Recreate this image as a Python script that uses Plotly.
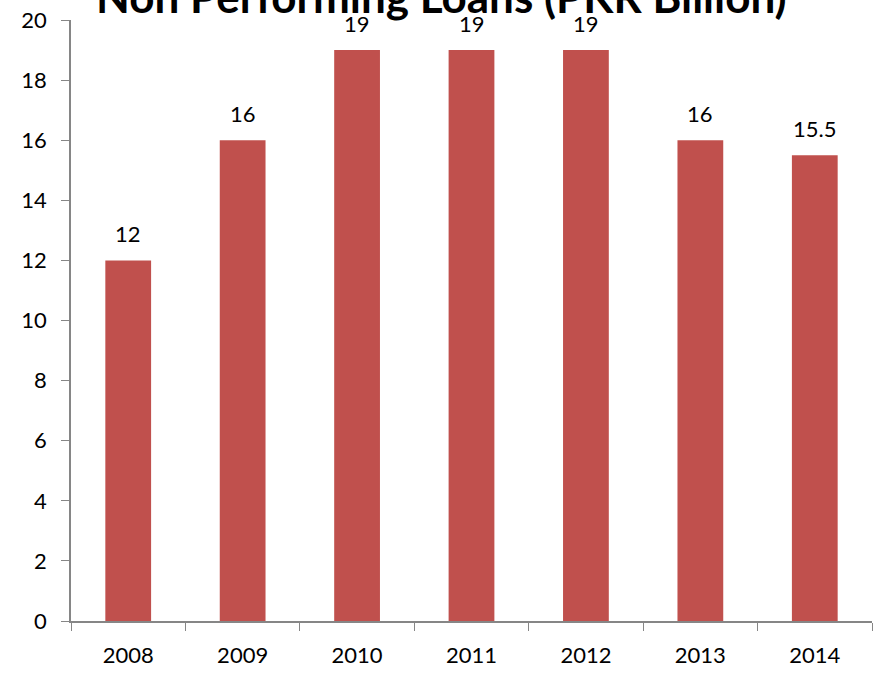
import plotly.graph_objects as go

years = ["2008", "2009", "2010", "2011", "2012", "2013", "2014"]
npl = [12, 16, 19, 19, 19, 16, 15.5]
labels = ["12", "16", "19", "19", "19", "16", "15.5"]
yticks = [0, 2, 4, 6, 8, 10, 12, 14, 16, 18, 20]
title = "Non Performing Loans (PKR Billion)"

FONT = "Lato"
fig = go.Figure()
fig.add_trace(go.Bar(x=years, y=npl, marker_color="#C0504D", width=0.4,
                     marker_line_width=0, hoverinfo="skip"))
for i, (y, t) in enumerate(zip(npl, labels)):
    fig.add_annotation(x=i, y=y, text=t, showarrow=False, yanchor="bottom",
                       yshift=11, font=dict(family=FONT, size=22, color="black"))

fig.add_annotation(xref="paper", yref="paper", x=0.463, y=0.9935, xanchor="center",
                   yanchor="bottom", text="<b>" + title + "</b>", showarrow=False,
                   font=dict(family=FONT, size=44, color="black"))

fig.update_layout(
    width=873, height=677,
    margin=dict(l=71, r=1, t=20, b=56),
    paper_bgcolor="white", plot_bgcolor="white",
    showlegend=False,
)
fig.update_xaxes(type="category", tickson="boundaries", ticks="outside", ticklen=8,
                 tickcolor="#868686", showline=True, linecolor="#868686", linewidth=1.5,
                 tickfont=dict(family=FONT, size=22, color="black"), showgrid=False,
                 ticklabelstandoff=14, tickangle=0, automargin=False)
fig.update_yaxes(range=[0, 20], tickvals=yticks, ticks="outside", ticklen=8,
                 tickcolor="#868686", showline=True, linecolor="#868686", linewidth=1.5,
                 tickfont=dict(family=FONT, size=22, color="black"), showgrid=False,
                 zeroline=False, ticklabelstandoff=10, automargin=False)
fig.write_html("out.html")
